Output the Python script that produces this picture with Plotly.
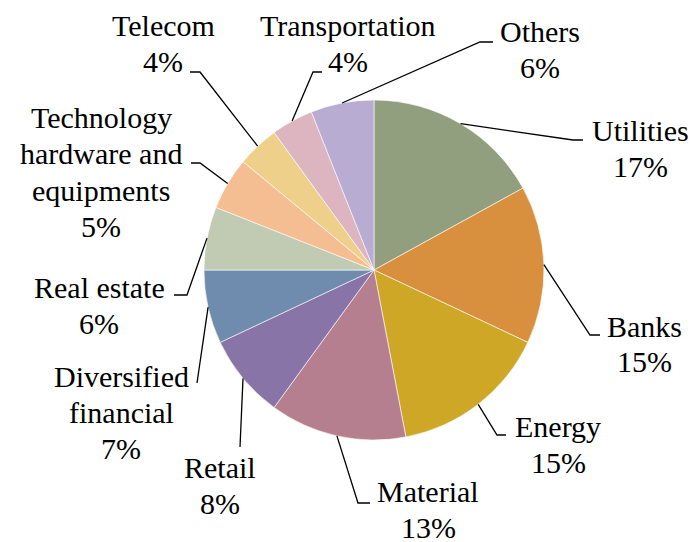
import math
import plotly.graph_objects as go

# ──────────────────────────────────────────────
# Data
# ──────────────────────────────────────────────
sectors = [
    "Utilities", "Banks", "Energy", "Material", "Retail",
    "Diversified financial", "Real estate",
    "Technology hardware and equipments",
    "Telecom", "Transportation", "Others",
]
shares = [17, 15, 15, 13, 8, 7, 6, 5, 4, 4, 6]
colors = [
    "#929F7E", "#D8903F", "#CEA727", "#B67F8F", "#8974A8",
    "#6F8BAD", "#C1CAB2", "#F5BD92", "#EFD08B", "#DDB5C0", "#B8ACD3",
]
# how each label is broken into lines
label_lines = {
    "Diversified financial": ["Diversified", "financial"],
    "Technology hardware and equipments": ["Technology", "hardware and", "equipments"],
}

# ──────────────────────────────────────────────
# Layout geometry (pixels)
# ──────────────────────────────────────────────
W, H = 694, 542
CX, CY, R = 374, 270, 170
LINE_H = 36

# label centre x, first line y, leader elbow (x, y), leader end x
label_pos = {
    "Utilities": (640, 131, (573, 140), 583),
    "Banks": (644, 326, (590, 335), 600),
    "Energy": (558, 426, (497, 435), 506),
    "Material": (428, 491, (358, 503), 370),
    "Retail": (220, 467, (240, 447), 240),
    "Diversified financial": (121, 376, (197, 383), 197),
    "Real estate": (99, 287, (187, 295), 174),
    "Technology hardware and equipments": (101, 118, (200, 163), 191),
    "Telecom": (163, 25, (200, 72), 190),
    "Transportation": (348, 25, (313, 72), 322),
    "Others": (540, 32, (480, 42), 493),
}

FONT = "Liberation Serif"


def px(x):
    return x / W


def py(y):
    return 1 - y / H


fig = go.Figure(go.Pie(
    labels=sectors,
    values=shares,
    sort=False,
    direction="clockwise",
    rotation=0,
    textinfo="none",
    hoverinfo="label+percent",
    marker=dict(colors=colors, line=dict(color="white", width=0.6)),
    domain=dict(x=[px(CX - R), px(CX + R)], y=[py(CY + R), py(CY - R)]),
    showlegend=False,
))

annotations = []
shapes = []
total = sum(shares)
cum = 0
for name, val in zip(sectors, shares):
    mid = (cum + val / 2) / total * 2 * math.pi
    cum += val
    sx = CX + R * math.sin(mid)
    sy = CY - R * math.cos(mid)

    lx, ly, (ex, ey), hx = label_pos[name]
    shapes.append(dict(
        type="path", xref="paper", yref="paper",
        path=f"M {px(sx)} {py(sy)} L {px(ex)} {py(ey)} L {px(hx)} {py(ey)}",
        line=dict(color="black", width=1.3),
    ))

    lines = label_lines.get(name, [name]) + [f"{val}%"]
    for i, txt in enumerate(lines):
        annotations.append(dict(
            x=px(lx), y=py(ly + i * LINE_H), xref="paper", yref="paper",
            text=txt, showarrow=False, xanchor="center", yanchor="middle",
            font=dict(family=FONT, size=30, color="black"),
        ))

fig.update_layout(
    width=W, height=H,
    paper_bgcolor="white",
    plot_bgcolor="white",
    font=dict(family=FONT, color="black"),
    margin=dict(l=0, r=0, t=0, b=0),
    annotations=annotations,
    shapes=shapes,
)

# drop the default body margin so the figure sits at the page corner
fig.write_html(
    "out.html",
    config={"displayModeBar": False},
    post_script="document.body.style.margin = '0';",
)
